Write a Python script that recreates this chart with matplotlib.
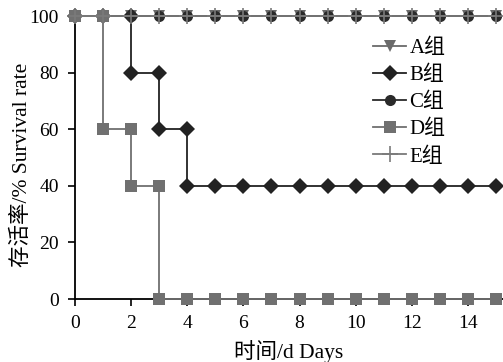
import matplotlib
matplotlib.use("Agg")
import matplotlib.pyplot as plt

plt.rcParams['font.family'] = ['Liberation Serif', 'Noto Sans CJK SC']

# survival (%) per day for each group
days = list(range(0, 16))
surv_a = [100] * 16
surv_b = [100, 100, 80, 60, 40] + [40] * 11
surv_c = [100] * 16
surv_d = [100, 60, 40, 0] + [0] * 12
surv_e = [100] * 16

labels = ["A组", "B组", "C组", "D组", "E组"]


def step_points(x, y):
    # Kaplan-Meier style: mark both ends of each drop
    xs, ys = [], []
    for i in range(len(x)):
        if i > 0 and y[i] != y[i - 1]:
            xs.append(x[i])
            ys.append(y[i - 1])
        xs.append(x[i])
        ys.append(y[i])
    return xs, ys


fig = plt.figure(figsize=(5.03, 3.62), dpi=100)
ax = fig.add_axes([75 / 503, 63 / 362, 428 / 503, 283 / 362])

styles = [
    dict(marker="v", color="#6a6a6a", ms=9),
    dict(marker="D", color="#222222", ms=8),
    dict(marker="o", color="#2a2a2a", ms=8),
    dict(marker="s", color="#707070", ms=9),
    dict(marker="+", color="#7a7a7a", ms=11, mew=1.2),
]
series = [surv_a, surv_b, surv_c, surv_d, surv_e]
order = [3, 1, 0, 2, 4]
handles = {}
for k in order:
    xs, ys = step_points(days, series[k])
    st = styles[k]
    h, = ax.plot(xs, ys, marker=st["marker"], color=st["color"], ms=st["ms"],
                 mew=st.get("mew", 0), lw=1.3, label=labels[k], clip_on=False,
                 zorder=3 + k)
    handles[k] = h

ax.set_xlim(0, 15.25)
ax.set_ylim(0, 100)
ax.set_xticks(range(0, 16, 2))
ax.set_yticks(range(0, 101, 20))
ax.spines['top'].set_visible(False)
ax.spines['right'].set_visible(False)
ax.spines['left'].set_linewidth(1.3)
ax.spines['bottom'].set_linewidth(1.3)
ax.tick_params(direction='out', length=5, width=1.2, labelsize=14, pad=6.5)

ax.set_xlabel("时间/d Days", fontsize=15.5, labelpad=6)
ax.set_ylabel("存活率/% Survival rate", fontsize=15.5)
ax.yaxis.set_label_coords(-0.100, 0.473)

ax.legend([handles[k] for k in range(5)], labels, loc='upper left',
          bbox_to_anchor=(0.696, 0.92), frameon=False, fontsize=15,
          handlelength=1.6, handletextpad=0.15, labelspacing=0.36,
          borderaxespad=0, borderpad=0)

fig.savefig("out.png", dpi=100)
